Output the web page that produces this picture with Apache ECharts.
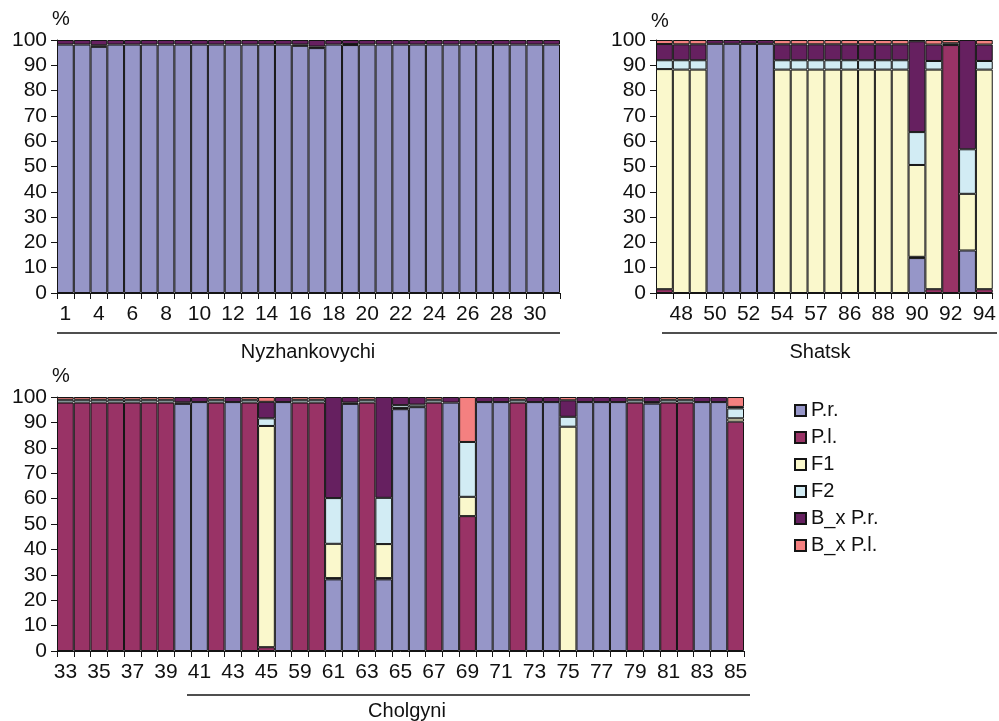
<!DOCTYPE html>
<html><head><meta charset="utf-8">
<script src="https://cdn.jsdelivr.net/npm/echarts@6/dist/echarts.min.js"></script>
<style>html,body{margin:0;padding:0;background:#fff}#c{width:999px;height:721px}</style>
</head><body><div id="c"></div>
<script>
const seriesNames = ['P.r.', 'P.l.', 'F1', 'F2', 'B_x P.r.', 'B_x P.l.'];
const seriesColors = ['#9696C8', '#993366', '#FAF8CC', '#D2ECF4', '#662060', '#F48080'];
const groupNames = ['Nyzhankovychi', 'Shatsk', 'Cholgyni'];
const yTicks = [0, 10, 20, 30, 40, 50, 60, 70, 80, 90, 100];

// Nyzhankovychi
const nyCategories = ['1','3','4','5','6','7','8','9','10','11','12','13','14','15','16','17','18','19','20','21','22','23','24','25','26','27','28','29','30','31'];
const nyPr   = [98.2,98.2,97.3,98.2,98.2,98.2,98.2,98.2,98.2,98.2,98.2,98.2,98.2,98.2,97.7,96.8,98.2,98.0,98.2,98.2,98.2,98.2,98.2,98.2,98.2,98.2,98.2,98.2,98.2,98.2];
const nyPl   = [0,0,0.6,0,0,0,0,0,0,0,0,0,0,0,0.5,0.6,0,0.4,0,0,0,0,0,0,0,0,0,0,0,0];
const nyF1   = [0,0,0,0,0,0,0,0,0,0,0,0,0,0,0,0,0,0,0,0,0,0,0,0,0,0,0,0,0,0];
const nyF2   = [0,0,0,0,0,0,0,0,0,0,0,0,0,0,0,0,0,0,0,0,0,0,0,0,0,0,0,0,0,0];
const nyBxPr = [1.8,1.8,2.1,1.8,1.8,1.8,1.8,1.8,1.8,1.8,1.8,1.8,1.8,1.8,1.8,2.6,1.8,1.6,1.8,1.8,1.8,1.8,1.8,1.8,1.8,1.8,1.8,1.8,1.8,1.8];
const nyBxPl = [0,0,0,0,0,0,0,0,0,0,0,0,0,0,0,0,0,0,0,0,0,0,0,0,0,0,0,0,0,0];

// Shatsk
const shCategories = ['47','48','49','50','51','52','53','54','56','57','85','86','87','88','89','90','91','92','93','94'];
const shPr   = [0,0,0,98.5,98.5,98.5,98.5,0,0,0,0,0,0,0,0,13.8,0,0,16.8,0];
const shPl   = [1.5,0,0,0,0,0,0,0,0,0,0,0,0,0,0,0.5,1.5,98,0,1.5];
const shF1   = [87,88.3,88.3,0,0,0,0,88.3,88.3,88.3,88.3,88.3,88.3,88.3,88.3,36.3,86.8,0,22.4,86.8];
const shF2   = [3.5,3.7,3.7,0,0,0,0,3.7,3.7,3.7,3.7,3.7,3.7,3.7,3.7,13,3.4,0.7,17.6,3.4];
const shBxPr = [6.4,6.3,6.3,1.5,1.5,1.5,1.5,6.3,6.3,6.3,6.3,6.3,6.3,6.3,6.3,35.9,6.5,0,43.2,6.5];
const shBxPl = [1.6,1.7,1.7,0,0,0,0,1.7,1.7,1.7,1.7,1.7,1.7,1.7,1.7,0.5,1.8,1.3,0,1.8];

// Cholgyni
const chCategories = ['33','34','35','36','37','38','39','40','41','42','43','44','45','46','59','60','61','62','63','64','65','66','67','68','69','70','71','72','73','74','75','76','77','78','79','80','81','82','83','84','85'];
const chPr   = [0,0,0,0,0,0,0,97.3,98,0,98,0,0,98,0,0,28.2,97.3,0,28.2,95.2,96,0,97.8,0,98,98,0,98,98,0,98,98,98,0,97.4,0,0,98,98,0];
const chPl   = [97.8,97.8,97.8,97.8,97.8,97.8,97.8,0.6,0,97.8,0,97.8,1.5,0,97.8,97.8,0.5,0.5,97.8,0.5,0.5,0,97.8,0,53.1,0,0,97.8,0,0,0,0,0,0,97.8,0.6,97.8,97.8,0,0,90.3];
const chF1   = [0,0,0,0,0,0,0,0,0,0,0,0,87.1,0,0,0,13.5,0,0,13.4,0,0,0,0,7.6,0,0,0,0,0,88.3,0,0,0,0,0,0,0,0,0,1.3];
const chF2   = [1.1,1.1,1.1,1.1,1.1,1.1,1.1,0,0,1.1,0,1.1,3,0,1.1,1.1,18,0,1.1,18.2,1.1,1,1.1,0,21.6,0,0,1.1,0,0,3.9,0,0,0,1.1,0,1.1,1.1,0,0,3.9];
const chBxPr = [0,0,0,0,0,0,0,2.1,2,0,2,0,6.5,2,0,0,39.8,2.2,0,39.7,3.2,3,0,2.2,0,2,2,0,2,2,6.5,2,2,2,0,2,0,0,2,2,0.6];
const chBxPl = [1.1,1.1,1.1,1.1,1.1,1.1,1.1,0,0,1.1,0,1.1,1.9,0,1.1,1.1,0,0,1.1,0,0,0,1.1,0,17.7,0,0,1.1,0,0,1.3,0,0,0,1.1,0,1.1,1.1,0,0,3.9];

const FONT = "'Liberation Sans', Arial, sans-serif";
const INK = '#141414';

const panels = [
  { cats: nyCategories, vals: [nyPr, nyPl, nyF1, nyF2, nyBxPr, nyBxPl], stack: 'ny', labelShow: i => i % 2 === 0,
    grid: { left: 57, top: 40, width: 503, height: 253 } },
  { cats: shCategories, vals: [shPr, shPl, shF1, shF2, shBxPr, shBxPl], stack: 'sh', labelShow: i => i % 2 === 1,
    grid: { left: 656, top: 40, width: 337, height: 253 } },
  { cats: chCategories, vals: [chPr, chPl, chF1, chF2, chBxPr, chBxPl], stack: 'ch', labelShow: i => i % 2 === 0,
    grid: { left: 57, top: 397, width: 687, height: 254 } }
];

const option = {
  animation: false,
  backgroundColor: '#ffffff',
  textStyle: { fontFamily: FONT },
  grid: panels.map(p => p.grid),
  xAxis: panels.map((p, gi) => ({
    type: 'category', gridIndex: gi, data: p.cats, boundaryGap: true,
    axisLine: { show: true, lineStyle: { color: INK, width: 1 } },
    axisTick: { show: true, interval: 0, length: 6, lineStyle: { color: INK } },
    axisLabel: { interval: (idx) => p.labelShow(idx), color: '#111', fontSize: 21, margin: 11, fontFamily: FONT },
    splitLine: { show: false }
  })),
  yAxis: panels.map((p, gi) => ({
    type: 'value', gridIndex: gi, min: yTicks[0], max: yTicks[yTicks.length - 1], interval: 10,
    name: '%', nameLocation: 'end', nameGap: 9,
    nameTextStyle: { color: '#111', fontSize: 20, fontFamily: FONT, align: 'left', padding: [0, 0, 0, -5] },
    axisLine: { show: true, lineStyle: { color: INK, width: 1 } },
    axisTick: { show: true, length: 6, lineStyle: { color: INK } },
    axisLabel: { color: '#111', fontSize: 21, margin: 10, fontFamily: FONT },
    splitLine: { show: false }
  })),
  legend: {
    orient: 'vertical', left: 789, top: 395,
    data: seriesNames,
    icon: 'rect', itemWidth: 11, itemHeight: 11, itemGap: 6,
    textStyle: { color: '#111', fontSize: 20, fontFamily: FONT, lineHeight: 21 }
  },
  series: [],
  graphic: [
    { type: 'line', shape: { x1: 57, y1: 333, x2: 560, y2: 333 }, style: { stroke: INK, lineWidth: 1.5 } },
    { type: 'text', x: 308, y: 352, style: { text: groupNames[0], fill: '#111', font: '20px ' + FONT, textAlign: 'center', textVerticalAlign: 'middle' } },
    { type: 'line', shape: { x1: 662, y1: 333, x2: 997, y2: 333 }, style: { stroke: INK, lineWidth: 1.5 } },
    { type: 'text', x: 820, y: 352, style: { text: groupNames[1], fill: '#111', font: '20px ' + FONT, textAlign: 'center', textVerticalAlign: 'middle' } },
    { type: 'line', shape: { x1: 187, y1: 695, x2: 750, y2: 695 }, style: { stroke: INK, lineWidth: 1.5 } },
    { type: 'text', x: 407, y: 711, style: { text: groupNames[2], fill: '#111', font: '20px ' + FONT, textAlign: 'center', textVerticalAlign: 'middle' } }
  ]
};

panels.forEach((p, gi) => {
  seriesNames.forEach((name, si) => {
    option.series.push({
      type: 'bar', name: name, xAxisIndex: gi, yAxisIndex: gi, stack: p.stack,
      barCategoryGap: '0%', barGap: '0%',
      itemStyle: { color: seriesColors[si], borderColor: INK, borderWidth: 1 },
      emphasis: { disabled: true },
      data: p.vals[si].map(v => (v === 0 ? null : v))
    });
  });
});

const chart = echarts.init(document.getElementById('c'), null, { renderer: 'canvas' });
chart.setOption(option);
</script>
</body></html>
